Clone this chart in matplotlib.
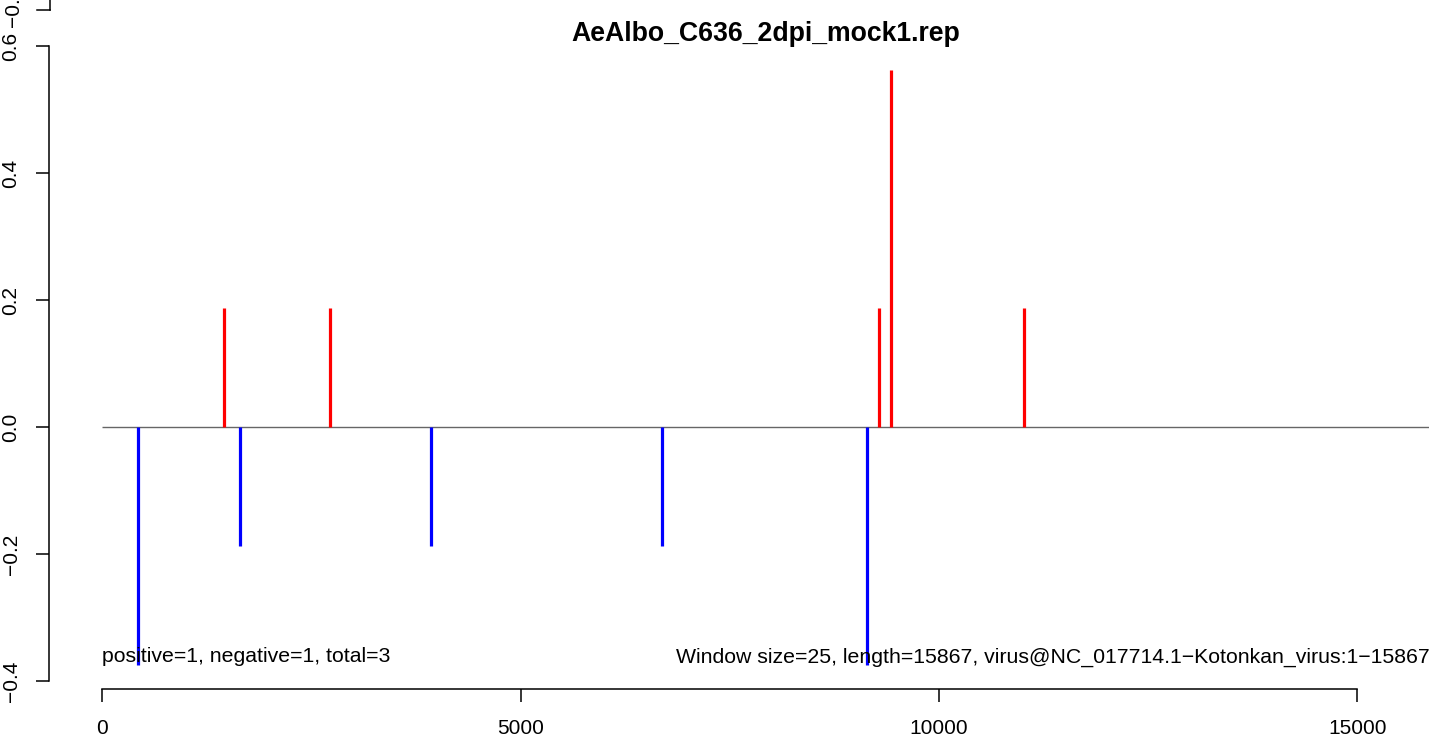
import matplotlib
matplotlib.use("Agg")
from matplotlib import pyplot as plt
from matplotlib.lines import Line2D

plt.rcParams['font.family'] = ['Liberation Sans', 'DejaVu Sans']

title = "AeAlbo_C636_2dpi_mock1.rep"
genome_len = 15867

# positive strand peaks (red) and negative strand peaks (blue)
pos_x = [1462, 2729, 9278, 9433, 11011]
pos_y = [0.1875, 0.1875, 0.1875, 0.5625, 0.1875]
neg_x = [434, 1653, 3936, 6685, 9135]
neg_y = [-0.375, -0.1875, -0.1875, -0.1875, -0.375]

x_ticks = [0, 5000, 10000, 15000]
y_ticks = [-0.4, -0.2, 0.0, 0.2, 0.4, 0.6]

left_note = "positive=1, negative=1, total=3"
right_note = "Window size=25, length=15867, virus@NC_017714.1\u2212Kotonkan_virus:1\u221215867"

W, H = 1429, 737
fig = plt.figure(figsize=(W / 100, H / 100), dpi=100)
# plot region runs off the right edge like the original (cropped panel)
ax = fig.add_axes([49 / W, (H - 689) / H, (1483 - 49) / W, (689 - 46) / H])

fs = 15

ax.hlines(0, 0, genome_len, color='#666666', lw=1.0)
ax.vlines(pos_x, 0, pos_y, color='#ff0000', lw=2.3)
ax.vlines(neg_x, 0, neg_y, color='#0000ff', lw=2.3)

ax.set_xlim(-0.04 * genome_len, genome_len * 1.04)
ymin, ymax = min(neg_y), max(pos_y)
pad = 0.04 * (ymax - ymin)
ax.set_ylim(ymin - pad, ymax + pad)

for s in ['top', 'right']:
    ax.spines[s].set_visible(False)
ax.spines['left'].set_bounds(y_ticks[0], y_ticks[-1])
ax.spines['bottom'].set_bounds(x_ticks[0], x_ticks[-1])
ax.spines['left'].set_linewidth(1.1)
ax.spines['bottom'].set_linewidth(1.1)

ax.set_xticks(x_ticks)
ax.set_xticklabels([str(t) for t in x_ticks])
ax.set_yticks(y_ticks)
ax.set_yticklabels(['%.1f' % t if t >= 0 else '\u2212%.1f' % -t for t in y_ticks],
                   rotation=90, va='center')
ax.tick_params(axis='both', direction='out', length=9.5, width=1.1, labelsize=fs)
ax.tick_params(axis='x', pad=12)
ax.tick_params(axis='y', pad=11)

ax.text(0, -0.362, left_note, fontsize=15.3, ha='left', va='center')
ax.text(genome_len, -0.362, right_note, fontsize=15.3, ha='right', va='center')

fig.text((49 + 1483) / 2 / W, 1 - 34 / H, title, fontsize=19.2,
         fontweight='bold', ha='center', va='center')

# leftover of the panel above (its bottom y tick), cut by the image edge
fig.add_artist(Line2D([50 / W, 50 / W], [1.0, 1 - 10 / H], color='black', lw=1.1))
fig.add_artist(Line2D([37 / W, 50 / W], [1 - 10 / H, 1 - 10 / H], color='black', lw=1.1))
fig.text(13 / W, 1 - 6 / H, '\u22120.4', fontsize=fs, rotation=90,
         ha='center', va='center')

fig.savefig('out.png', dpi=100)
